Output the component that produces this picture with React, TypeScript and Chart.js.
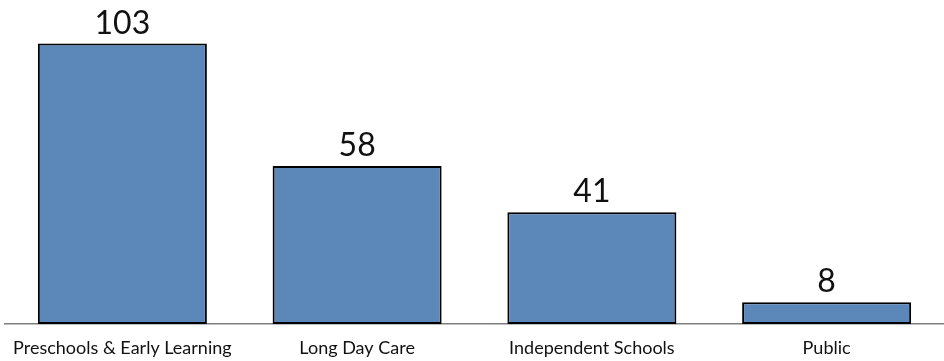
import React, { useEffect, useRef } from "react";
import { Chart, registerables, Plugin } from "chart.js";

Chart.register(...registerables);

const categories = [
  "Preschools & Early Learning",
  "Long Day Care",
  "Independent Schools",
  "Public",
];
const counts = [103, 58, 41, 8];
const yMax = 119;

const FONT = "Lato, 'Open Sans', sans-serif";

// Draws each bar's count centred above it.
const valueLabels: Plugin<"bar"> = {
  id: "valueLabels",
  afterDatasetsDraw(chart) {
    const { ctx } = chart;
    const meta = chart.getDatasetMeta(0);
    ctx.save();
    ctx.font = `32px ${FONT}`;
    ctx.fillStyle = "#111111";
    ctx.textAlign = "center";
    ctx.textBaseline = "alphabetic";
    meta.data.forEach((el, i) => {
      const v = chart.data.datasets[0].data[i] as number;
      ctx.fillText(String(v), el.x, el.y - 10);
    });
    ctx.restore();
  },
};

export default function App() {
  const canvasRef = useRef<HTMLCanvasElement | null>(null);

  useEffect(() => {
    if (!canvasRef.current) return;
    const chart = new Chart(canvasRef.current, {
      type: "bar",
      data: {
        labels: categories,
        datasets: [
          {
            data: counts,
            backgroundColor: "#5b88b9",
            borderColor: "#000000",
            borderWidth: 2,
            borderSkipped: false,
            categoryPercentage: 1,
            barPercentage: 0.72,
          },
        ],
      },
      options: {
        animation: false,
        responsive: false,
        maintainAspectRatio: false,
        layout: { padding: { left: 5, right: 0, top: 0, bottom: 0 } },
        plugins: {
          legend: { display: false },
          tooltip: { enabled: false },
        },
        scales: {
          x: {
            grid: { display: false, drawTicks: false },
            border: { display: true, color: "#7f7f7f", width: 1.5 },
            ticks: {
              color: "#111111",
              font: { family: FONT, size: 18 },
              padding: 13,
              maxRotation: 0,
              autoSkip: false,
            },
            afterFit(scale) {
              scale.height = 37;
              scale.paddingLeft = 0;
              scale.paddingRight = 0;
            },
          },
          y: {
            display: false,
            min: 0,
            max: yMax,
          },
        },
      },
      plugins: [valueLabels],
    });
    return () => chart.destroy();
  }, []);

  return (
    <div style={{ position: "absolute", left: 0, top: 0, width: 944, height: 361, background: "#ffffff" }}>
      <canvas ref={canvasRef} width={944} height={361} />
    </div>
  );
}
